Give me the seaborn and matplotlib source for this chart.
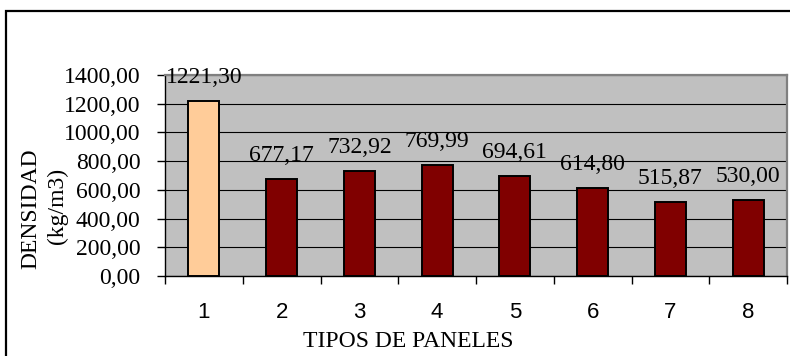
import matplotlib
matplotlib.use("Agg")
import matplotlib.pyplot as plt
import matplotlib.patches as mpatches
from matplotlib.ticker import FuncFormatter, MultipleLocator, FixedLocator
import seaborn as sns
import pandas as pd

# Panel types and their measured density (kg/m3)
tipos = ["1", "2", "3", "4", "5", "6", "7", "8"]
densidad = [1221.30, 677.17, 732.92, 769.99, 694.61, 614.80, 515.87, 530.00]
colores = ["#FFCC99", "#800000", "#800000", "#800000",
           "#800000", "#800000", "#800000", "#800000"]

df = pd.DataFrame({"tipo": tipos, "densidad": densidad})

sns.set_theme(style="white")
serif = "Liberation Serif"
sans = "Liberation Sans"

W, H = 790, 356
fig = plt.figure(figsize=(W / 100, H / 100), dpi=100)
fig.patch.set_facecolor("white")

# plot area in pixel coordinates
left, right, top, bottom = 165, 787, 75, 276
ax = fig.add_axes([left / W, 1 - bottom / H, (right - left) / W, (bottom - top) / H])
ax.set_facecolor("#C0C0C0")

sns.barplot(data=df, x="tipo", y="densidad", hue="tipo", palette=colores,
            legend=False, width=0.4, edgecolor="black", linewidth=1.4,
            saturation=1, ax=ax, zorder=3)

ax.set_ylim(0, 1400)
ax.set_xlim(-0.5, len(tipos) - 0.5)
ax.yaxis.set_major_locator(MultipleLocator(200))
ax.yaxis.set_major_formatter(FuncFormatter(lambda v, _: f"{v:.2f}".replace(".", ",")))
ax.grid(axis="y", color="black", linewidth=0.8, zorder=1)
ax.set_axisbelow(True)

# x ticks: labels at the centres, tick marks at the category boundaries
ax.xaxis.set_minor_locator(FixedLocator([i - 0.5 for i in range(len(tipos) + 1)]))
ax.tick_params(axis="x", which="major", length=0, pad=18.5)
ax.tick_params(axis="x", which="minor", length=5.5, width=1, color="black",
               direction="out", bottom=True)
ax.tick_params(axis="y", length=5.5, width=1, color="black", direction="out",
               left=True, pad=12)
for lab in ax.get_xticklabels():
    lab.set_fontfamily(sans)
    lab.set_fontsize(16)
    lab.set_color("black")
for lab in ax.get_yticklabels():
    lab.set_fontfamily(serif)
    lab.set_fontsize(17)
    lab.set_color("black")

ax.set_xlabel("")
ax.set_ylabel("")

for side in ("left", "bottom"):
    ax.spines[side].set_color("black")
    ax.spines[side].set_linewidth(1.0)
for side in ("top", "right"):
    ax.spines[side].set_color("#808080")
    ax.spines[side].set_linewidth(1.6)

# value labels above each bar
for i, v in enumerate(densidad):
    ax.annotate(f"{v:.2f}".replace(".", ","), xy=(i, v), xytext=(0, 13),
                textcoords="offset points", ha="center", va="baseline",
                fontsize=17, family=serif, color="black", zorder=5,
                annotation_clip=False)

# axis titles
fig.text(408 / W, 1 - 347 / H, "TIPOS DE PANELES", ha="center", va="baseline",
         fontsize=17, family=serif, color="black")
fig.text(31 / W, 1 - 209 / H, "DENSIDAD", ha="center", va="center",
         rotation=90, fontsize=17, family=serif, color="black")
fig.text(57 / W, 1 - 206 / H, "(kg/m3)", ha="center", va="center",
         rotation=90, fontsize=17, family=serif, color="black")

# chart frame
frame = mpatches.Rectangle((6 / W, -0.1), 1.2, 1 - 11 / H + 0.1,
                           transform=fig.transFigure, fill=False,
                           edgecolor="black", linewidth=1.6, zorder=10)
fig.patches.append(frame)

fig.savefig("out.png", dpi=100)
